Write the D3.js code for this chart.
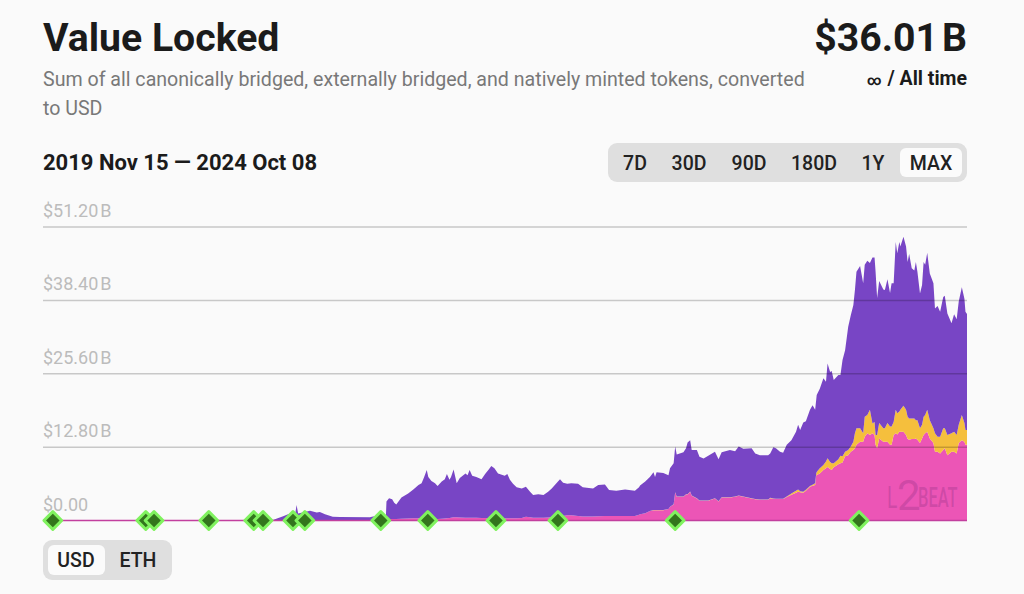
<!DOCTYPE html>
<html>
<head>
<meta charset="utf-8">
<title>Value Locked</title>
<script src="https://cdn.jsdelivr.net/npm/d3@7"></script>
<style>
    html, body { margin: 0; padding: 0; background: #fafafa; }
    svg { display: block; font-family: Roboto, sans-serif; }
</style>
</head>
<body>
<div id="chart"></div>
<script>
// Days since 2019 Nov 15
const days = [
    0,149,304,420,445,465,478,488,491,494,517,530,536,546,561,575,633,639,662,
    664,665,670,676,680,684,694,707,717,727,
    733,738,743,746,752,759,764,772,778,782,
    787,790,795,801,807,818,822,826,831,839,
    849,856,863,868,874,881,894,899,904,910,
    917,927,935,943,949,959,969,978,985,991,
    1001,1007,1015,1023,1036,1045,1065,1075,1088,1096,
    1110,1127,1146,1154,
    1156,1166,1175,1182,1185,1188,1201,1211,1214,1221,
    1224,1227,1240,1245,1248,1253,1256,1266,1271,1279,
    1288,1301,1308,1314,1330,1340,1347,1356,1372,1379,
    1388,1404,
    1408,1414,1419,1427,1433,1440,1449,1458,1462,1466,
    1472,1477,1485,1490,1495,1497,1498,1504,1511,1516,
    1519,1524,1527,1531,1540,1544,1548,
    1553,1559,1564,1569,1572,1575,1582,1588,1591,1596,
    1601,1606,1610,1612,1615,1619,1627,1630,1635,1640,
    1643,1647,1651,1654,1658,1660,1666,1671,1674,1677,
    1682,1687,1690,1693,1698,1702,1705,1708,1712,1717,
    1724,1727,1732,1737,1743,1746,1751,1759,1764,1769,
    1773,1779,1784,1786,1789
];

// Billions of USD
const totalLocked = [
    .01,.02,.03,.06,.1,.75,1.2,.95,2.7,1.2,1.7,1.4,1.5,1.1,.65,.6,.55,.7,.95,
    .96,3.3,3.9,3.7,3.1,2.8,4,4.7,5.4,6.2,
    6.5,7.6,8.8,7.6,6.9,6.5,6,6.8,7.2,8.1,
    7.1,7.6,8.9,6.5,7.4,8.2,7.9,8.8,7.8,7.6,
    7.2,8.1,8.9,9.5,9.1,8.2,7.8,8.1,7.1,6.4,
    5.8,5.6,5.9,5.0,4.45,4.6,4.45,5,5.6,6.2,
    7.2,6.6,6.4,6.5,6.4,5.8,5.6,6.2,6.3,5.3,
    5.2,5.4,5.2,5.8,
    6.1,6.8,7.6,8.4,7.6,8.4,8.3,7.9,9.1,10,
    12.9,11.5,11.9,12.6,13.6,14,12.3,12.3,11.1,10.8,
    11.3,12,10.7,11.9,12.3,12.1,12.9,12.5,12.6,11.7,
    11.4,11.4,
    11.7,12.8,12.6,12,11.8,13.2,14,15.5,16.7,15.8,
    17.1,17.3,19.3,20.1,19.3,21,21.9,23,24.8,24.2,
    27.4,25.9,26.1,24.5,25.4,25.4,28,
    29.7,33.8,35.8,37.6,40.2,43.4,44.4,41.4,44.6,45.3,
    44.9,45.9,45.9,43.4,38.8,41.8,40.3,40.2,42.1,39.7,
    41.4,41.4,48.6,46.6,48.6,47.8,49.5,47.8,45.1,46.5,
    44,43.6,45.1,43.4,39.6,41.1,45.1,44.6,46.7,43.1,
    41.4,37,37.4,36.4,39,39.2,36.1,34.4,36,35.1,
    38.2,40.7,38.7,36.4,36.01
];
const nativelyMinted = [
    0,0,0,.01,.01,.02,.02,.02,.03,.02,.03,.03,.03,.03,.03,.03,.03,.03,.04,
    .1,.2,.25,.25,.25,.25,.3,.35,.38,.38,
    .38,.36,.33,.32,.3,.28,.27,.3,.35,.4,
    .45,.5,.55,.55,.52,.5,.5,.5,.5,.48,
    .45,.43,.42,.41,.4,.4,.38,.38,.38,.38,
    .4,.45,.65,.55,.5,.5,.5,.52,.55,.55,
    .7,.8,.9,.9,.8,.7,.7,.72,.78,.78,
    .78,.78,.8,1.0,
    1.1,1.25,1.65,1.8,1.8,1.8,1.8,2,2.4,2.8,
    4.9,4.15,4.15,4.55,4.55,5.0,4.3,3.85,3.45,3.45,
    3.45,3.85,3.3,4,4,4.15,4.3,4.15,3.85,3.7,
    3.6,3.6,
    3.9,3.8,3.75,3.75,3.75,4.1,4.5,4.85,5,4.95,
    4.85,5.2,5.9,6.05,6.2,7.9,7.95,8.2,8.8,9.1,
    9.35,9.0,8.8,9.3,9.8,10,10.1,
    11.2,11.4,12,12.3,12.6,13.2,13.75,13.75,14.6,15.2,
    14.9,15.2,14.9,13.2,12.6,14.3,13.75,13.75,13.75,13.2,
    13.2,14.9,15.2,15,15.5,15.5,15.5,14.9,14.2,14.1,
    14.2,14.2,14.3,14.1,13.5,14.3,14.9,15.2,15.5,14.3,
    13.5,12,12,11.7,12.3,12.6,11.4,12,12,11.7,
    13.5,14,13.75,13.2,13.2
];
const externallyBridged = [
    0,0,0,0,0,0,0,0,0,0,0,0,0,0,0,0,0,0,0,
    0,0,0,0,0,0,0,0,0,0,
    0,0,0,0,0,0,0,0,0,0,
    0,0,0,0,0,0,0,0,0,0,
    0,0,0,0,0,0,0,0,0,0,
    0,0,0,0,0,0,0,0,0,0,
    0,0,0,0,0,0,0,0,0,0,
    0,0,0,0,
    .01,.01,.01,.01,.01,.01,.01,.01,.01,.02,
    .02,.02,.02,.02,.05,.05,.05,.05,.05,.05,
    .05,.05,.05,.05,.05,.05,.05,.05,.05,.05,
    .05,.05,
    .05,.05,.05,.05,.05,.1,.2,.35,.4,.15,
    .15,.15,.1,.2,.3,.3,.5,.9,.9,1.2,
    1.5,1.2,1.2,.7,.9,1.3,1.1,
    .8,.9,.9,1.45,2.6,2.9,2.35,1.45,3.5,3.2,
    4.4,1.7,2.3,1.7,2.3,2.7,2.35,2.35,3.25,3.2,
    3.2,2.3,4.1,3.7,3.5,3.8,4.5,4.4,3.9,3.7,
    3.6,3.6,3.2,3.4,2.6,2.4,3.2,3.2,3.8,3.2,
    2.6,3.2,2.6,2.9,3.8,3.5,3.5,3.2,3.5,3.2,
    3.2,4.4,3.25,2.6,2.6
];

const tickValues = [0, 12.8, 25.6, 38.4, 51.2];
const tickLabels = ['$0.00', '$12.80\u200aB', '$25.60\u200aB', '$38.40\u200aB', '$51.20\u200aB'];
const milestoneDays = [19, 199, 215, 321, 408, 426, 484, 507, 654, 745, 877, 997, 1224, 1580];
const rangeOptions = ['7D', '30D', '90D', '180D', '1Y', 'MAX'];
const unitOptions = ['USD', 'ETH'];

const colors = { canonical: '#7845c5', external: '#f5bf3d', native: '#ec55b6' };
const startDate = new Date(2019, 10, 15);
const toDate = d => d3.timeDay.offset(startDate, d);

const svg = d3.select('#chart').append('svg').attr('width', 1024).attr('height', 594);

const x = d3.scaleTime().domain([toDate(0), toDate(1789)]).range([43, 967]);
const y = d3.scaleLinear().domain([0, 51.2]).range([520.5, 227]);

drawHeader();
drawArea();
drawGrid();
drawWatermark();
drawMilestones();
drawToggle(rangeOptions, 'MAX', { x: 608, y: 143, w: 359, h: 39 }, [635, 689, 749, 814, 873, 931], [900, 962]);
drawToggle(unitOptions, 'USD', { x: 43, y: 540, w: 129, h: 40 }, [76, 138], [48, 105]);

function drawHeader() {
    const text = (s, px, py, size, weight, fill, anchor) => svg.append('text')
        .attr('x', px).attr('y', py)
        .attr('font-size', size).attr('font-weight', weight)
        .attr('fill', fill).attr('text-anchor', anchor || 'start')
        .text(s);

    text('Value Locked', 43, 51, 39.2, 700, '#1b1b1b');
    text('$36.01\u200aB', 967, 51, 39.2, 700, '#1b1b1b', 'end');
    text('Sum of all canonically bridged, externally bridged, and natively minted tokens, converted', 43, 85.5, 19.6, 400, '#787878');
    text('to USD', 43, 114.5, 19.6, 400, '#787878');
    text('2019 Nov 15 \u2014 2024 Oct 08', 43, 170, 22, 700, '#1b1b1b');

    // Infinity sign is drawn smaller than the rest of the line
    const period = text('', 967, 85, 19.5, 700, '#1b1b1b', 'end');
    period.append('tspan').attr('font-size', 14).text('\u221e');
    period.append('tspan').attr('dx', 6).text('/ All time');
}

function drawArea() {
    const rows = days.map((d, i) => ({
        date: toDate(d),
        native: nativelyMinted[i],
        external: externallyBridged[i],
        canonical: totalLocked[i] - nativelyMinted[i] - externallyBridged[i]
    }));
    const keys = ['native', 'external', 'canonical'];
    const area = d3.area()
        .x(d => x(d.data.date))
        .y0(d => y(d[0]))
        .y1(d => y(d[1]));

    svg.append('g').selectAll('path')
        .data(d3.stack().keys(keys)(rows))
        .join('path')
        .attr('fill', d => colors[d.key])
        .attr('d', area);

    // Thin magenta baseline running under the whole chart
    svg.append('line')
        .attr('x1', x.range()[0]).attr('x2', x.range()[1])
        .attr('y1', y(0)).attr('y2', y(0))
        .attr('stroke', '#c23f9e').attr('stroke-width', 1.5);
}

function drawGrid() {
    const grid = svg.append('g');
    tickValues.forEach((v, i) => {
        if (v > 0) {
            grid.append('line')
                .attr('x1', 43).attr('x2', 967)
                .attr('y1', y(v)).attr('y2', y(v))
                .attr('stroke', 'rgba(0,0,0,0.2)').attr('stroke-width', 1.5);
        }
        grid.append('text')
            .attr('x', 43).attr('y', y(v) - 10)
            .attr('font-size', 18).attr('fill', '#bcbcbc')
            .text(tickLabels[i]);
    });
}

function drawWatermark() {
    const mark = svg.append('g').attr('fill', 'rgba(120,40,120,0.26)');
    mark.append('text').attr('transform', 'translate(887,508) scale(0.6,1)')
        .attr('font-size', 32).attr('font-weight', 400).text('L');
    mark.append('text').attr('transform', 'translate(897,510)')
        .attr('font-size', 42).attr('font-weight', 400).text('2');
    mark.append('text').attr('transform', 'translate(918,507) scale(0.61,1)')
        .attr('font-size', 27).attr('font-weight', 500).text('BEAT');
}

function drawMilestones() {
    const diamond = d3.symbol().type(d3.symbolSquare).size(158);
    svg.append('g').selectAll('path')
        .data(milestoneDays)
        .join('path')
        .attr('d', diamond)
        .attr('transform', d => `translate(${x(toDate(d))},${y(0)}) rotate(45)`)
        .attr('fill', '#33751d')
        .attr('stroke', '#80f25f')
        .attr('stroke-width', 3)
        .attr('stroke-linejoin', 'round');
}

function drawToggle(labels, active, box, centers, activeSpan) {
    const g = svg.append('g');
    g.append('rect')
        .attr('x', box.x).attr('y', box.y)
        .attr('width', box.w).attr('height', box.h)
        .attr('rx', 9).attr('fill', '#dfdfdf');
    g.append('rect')
        .attr('x', activeSpan[0]).attr('y', box.y + 5)
        .attr('width', activeSpan[1] - activeSpan[0]).attr('height', box.h - 10)
        .attr('rx', 6).attr('fill', '#fbfbfb');
    g.selectAll('text')
        .data(labels)
        .join('text')
        .attr('x', (d, i) => centers[i])
        .attr('y', box.y + box.h / 2 + 7)
        .attr('text-anchor', 'middle')
        .attr('font-size', 19.5).attr('font-weight', 500)
        .attr('fill', '#222')
        .text(d => d);
}
</script>
</body>
</html>
